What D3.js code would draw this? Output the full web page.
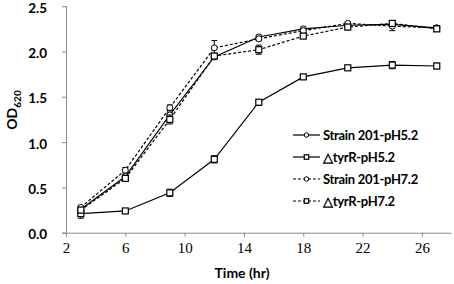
<!DOCTYPE html>
<html><head><meta charset="utf-8">
<script src="https://cdn.jsdelivr.net/npm/d3@7"></script>
<style>body{margin:0;background:#fff}svg{display:block}</style>
</head><body><div id="chart"></div>
<script>
const times = [3, 6, 9, 12, 15, 18, 21, 24, 27];
const seriesNames = ["Strain 201-pH5.2", "\u25B3tyrR-pH5.2", "Strain 201-pH7.2", "\u25B3tyrR-pH7.2"];
const strain201_pH52 = [0.26, 0.62, 1.30, 1.94, 2.16, 2.25, 2.29, 2.30, 2.26];
const tyrR_pH52      = [0.21, 0.24, 0.44, 0.81, 1.44, 1.72, 1.82, 1.85, 1.84];
const strain201_pH72 = [0.28, 0.69, 1.38, 2.04, 2.14, 2.23, 2.31, 2.28, 2.26];
const tyrR_pH72      = [0.25, 0.60, 1.25, 1.95, 2.02, 2.17, 2.27, 2.31, 2.25];
const err201_pH52 = [0.02, 0.02, 0.03, 0.02, 0.02, 0.02, 0.02, 0.02, 0.02];
const errTyr_pH52 = [0.05, 0.02, 0.04, 0.04, 0.03, 0.02, 0.02, 0.04, 0.03];
const err201_pH72 = [0.02, 0.03, 0.03, 0.08, 0.02, 0.02, 0.02, 0.05, 0.02];
const errTyr_pH72 = [0.03, 0.03, 0.05, 0.03, 0.05, 0.02, 0.03, 0.03, 0.03];
const xTicks = [2, 6, 10, 14, 18, 22, 26];
const yTicks = [0, 0.5, 1.0, 1.5, 2.0, 2.5];

const series = [
  {name: seriesNames[0], values: strain201_pH52, err: err201_pH52, dashed: false, marker: "circle"},
  {name: seriesNames[1], values: tyrR_pH52, err: errTyr_pH52, dashed: false, marker: "square"},
  {name: seriesNames[2], values: strain201_pH72, err: err201_pH72, dashed: true, marker: "circle"},
  {name: seriesNames[3], values: tyrR_pH72, err: errTyr_pH72, dashed: true, marker: "square"}
];

const W = 454, H = 284;
const sans = "Lato, 'Open Sans', sans-serif";
const serif = "'Liberation Serif', 'Times New Roman', 'DejaVu Serif', serif";
const svg = d3.select("#chart").append("svg").attr("width", W).attr("height", H);
const x = d3.scaleLinear().domain([2, 28]).range([66, 451.6]);
const y = d3.scaleLinear().domain([0, 2.5]).range([232.7, 6.2]);
const axisColor = "#8a8a8a";

// X axis
const xAxis = svg.append("g").attr("transform", `translate(0,${y(0)})`)
  .call(d3.axisBottom(x).tickValues(xTicks).tickSize(4).tickPadding(6).tickFormat(d3.format("d")));
xAxis.attr("font-family", serif);
xAxis.select(".domain").attr("stroke", axisColor).attr("d", `M62,0.5H451.6`);
xAxis.selectAll(".tick line").attr("stroke", axisColor);
xAxis.selectAll(".tick text")
  .style("font-family", serif)
  .style("font-size", "15px").attr("fill", "#000").attr("dy", "0.71em");

// Y axis
const yAxis = svg.append("g").attr("transform", `translate(${x(2)},0)`)
  .call(d3.axisLeft(y).tickValues(yTicks).tickSize(4).tickPadding(15).tickFormat(d3.format(".1f")));
yAxis.select(".domain").attr("stroke", axisColor).attr("d", `M0.5,${y(2.5)}V${y(0)}`);
yAxis.selectAll(".tick line").attr("stroke", axisColor);
yAxis.selectAll(".tick text").style("font-family", sans)
  .style("font-weight", "bold").style("font-size", "13.5px").attr("fill", "#000").attr("dy", "0.45em");

// Axis titles
svg.append("text").attr("transform", `translate(17,110) rotate(-90)`)
  .attr("text-anchor", "middle").style("font-family", sans)
  .style("font-weight", "bold").style("font-size", "14px").attr("fill", "#000")
  .call(t => { t.append("tspan").text("OD"); t.append("tspan").style("font-size", "10px").attr("dy", 4).text("620"); });
svg.append("text").attr("x", 242).attr("y", 278).attr("text-anchor", "middle")
  .style("font-family", sans).style("font-weight", "bold")
  .style("font-size", "14px").attr("fill", "#000").text("Time (hr)");

const line = d3.line().x(d => x(d[0])).y(d => y(d[1]));

function drawMarker(g, cx, cy, type, small) {
  const s = small ? 0.75 : 1;
  if (type === "circle") {
    g.append("circle").attr("cx", cx).attr("cy", cy).attr("r", 3 * s)
      .attr("fill", "#fff").attr("stroke", "#000").attr("stroke-width", 1);
  } else {
    const h = 3 * s;
    g.append("rect").attr("x", cx - h).attr("y", cy - h).attr("width", 2 * h).attr("height", 2 * h)
      .attr("fill", "#fff").attr("stroke", "#000").attr("stroke-width", 1.2);
  }
}

series.forEach(s => {
  const pts = times.map((t, i) => [t, s.values[i]]);
  svg.append("path").datum(pts).attr("d", line).attr("fill", "none")
    .attr("stroke", "#000").attr("stroke-width", 1.2)
    .attr("stroke-dasharray", s.dashed ? "3,2" : null);
});
series.forEach(s => {
  const g = svg.append("g");
  times.forEach((t, i) => {
    const cx = x(t), v = s.values[i], e = s.err[i];
    g.append("line").attr("x1", cx).attr("x2", cx).attr("y1", y(v - e)).attr("y2", y(v + e))
      .attr("stroke", "#000").attr("stroke-width", 1);
    [v - e, v + e].forEach(yy => g.append("line").attr("x1", cx - 3).attr("x2", cx + 3)
      .attr("y1", y(yy)).attr("y2", y(yy)).attr("stroke", "#000").attr("stroke-width", 1));
  });
  times.forEach((t, i) => drawMarker(g, x(t), y(s.values[i]), s.marker, false));
});

// Legend
const legY = [135, 157, 179, 201];
series.forEach((s, i) => {
  const g = svg.append("g");
  g.append("line").attr("x1", 293).attr("x2", 320).attr("y1", legY[i]).attr("y2", legY[i])
    .attr("stroke", "#000").attr("stroke-width", 1.2).attr("stroke-dasharray", s.dashed ? "3,2" : null);
  drawMarker(g, 306.5, legY[i], s.marker, true);
  g.append("text").attr("x", 323).attr("y", legY[i]).attr("dy", "0.35em")
    .style("font-family", sans).style("font-weight", "bold").style("letter-spacing", "-0.3px")
    .style("font-size", "13px").attr("fill", "#000").text(s.name);
});
</script></body></html>
